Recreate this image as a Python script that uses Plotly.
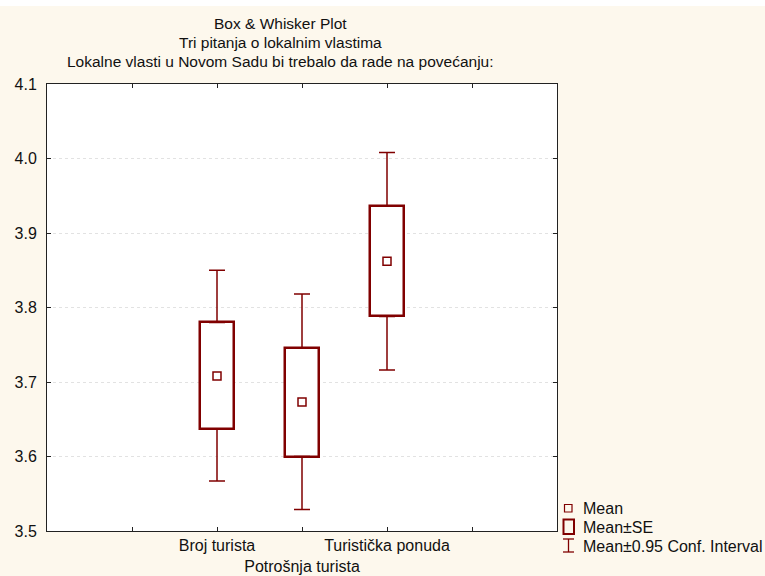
import plotly.graph_objects as go

# ---- data ----
categories = ["Broj turista", "Potrošnja turista", "Turistička ponuda"]
x_pos = [1, 2, 3]
mean_vals = [3.708, 3.673, 3.862]
se_low = [3.637, 3.600, 3.788]
se_high = [3.780, 3.746, 3.936]
ci_low = [3.567, 3.529, 3.716]
ci_high = [3.850, 3.818, 4.008]

title_lines = ["Box & Whisker Plot", "Tri pitanja o lokalnim vlastima",
               "Lokalne vlasti u Novom Sadu bi trebalo da rade na povećanju:"]
legend_labels = ["Mean", "Mean±SE", "Mean±0.95 Conf. Interval"]
y_ticks = [3.5, 3.6, 3.7, 3.8, 3.9, 4.0, 4.1]

MAROON = "#800000"
FONT = "Liberation Sans, Arial, sans-serif"
FS = 16

W, H = 765, 576
L, R, T, B = 47, 557, 84, 531


def px(xp):
    return (xp - L) / (R - L)


def py(yp):
    return (B - yp) / (B - T)


fig = go.Figure()

# Mean±SE boxes
fig.add_trace(go.Bar(
    x=x_pos,
    y=[h - l for h, l in zip(se_high, se_low)],
    base=se_low,
    width=0.39,
    marker=dict(color="white", line=dict(color=MAROON, width=2.5)),
    showlegend=False, hoverinfo="skip",
))

# Upper whiskers (from box top to CI high)
fig.add_trace(go.Scatter(
    x=x_pos, y=se_high, mode="markers",
    marker=dict(size=1, opacity=0),
    error_y=dict(type="data", symmetric=False,
                 array=[c - s for c, s in zip(ci_high, se_high)],
                 arrayminus=[0, 0, 0],
                 color=MAROON, thickness=1.5, width=8),
    showlegend=False, hoverinfo="skip",
))
# Lower whiskers (from box bottom to CI low)
fig.add_trace(go.Scatter(
    x=x_pos, y=se_low, mode="markers",
    marker=dict(size=1, opacity=0),
    error_y=dict(type="data", symmetric=False,
                 array=[0, 0, 0],
                 arrayminus=[s - c for s, c in zip(se_low, ci_low)],
                 color=MAROON, thickness=1.5, width=8),
    showlegend=False, hoverinfo="skip",
))

# Means
fig.add_trace(go.Scatter(
    x=x_pos, y=mean_vals, mode="markers",
    marker=dict(symbol="square-open", size=8, color=MAROON,
                line=dict(width=1.5, color=MAROON)),
    showlegend=False,
))

shapes = []
annotations = []

# top white strip (page above the chart)
shapes.append(dict(type="rect", xref="paper", yref="paper",
                   x0=px(0), x1=px(W), y0=py(6), y1=py(0),
                   fillcolor="white", line=dict(width=0), layer="above"))

# legend symbols
shapes.append(dict(type="rect", xref="paper", yref="paper",
                   x0=px(564.5), x1=px(572), y0=py(512), y1=py(504.5),
                   line=dict(color=MAROON, width=1.2), fillcolor="rgba(0,0,0,0)"))
shapes.append(dict(type="rect", xref="paper", yref="paper",
                   x0=px(563.5), x1=px(574), y0=py(534), y1=py(519.5),
                   line=dict(color=MAROON, width=2), fillcolor="rgba(0,0,0,0)"))
shapes.append(dict(type="line", xref="paper", yref="paper",
                   x0=px(568.5), x1=px(568.5), y0=py(552), y1=py(539),
                   line=dict(color=MAROON, width=1.3)))
shapes.append(dict(type="line", xref="paper", yref="paper",
                   x0=px(563), x1=px(574), y0=py(539), y1=py(539),
                   line=dict(color=MAROON, width=1.3)))
shapes.append(dict(type="line", xref="paper", yref="paper",
                   x0=px(563), x1=px(574), y0=py(552), y1=py(552),
                   line=dict(color=MAROON, width=1.3)))

for lab, yc in zip(legend_labels, [508, 527, 546]):
    annotations.append(dict(text=lab, xref="paper", yref="paper",
                            x=px(581), y=py(yc), xanchor="left", yanchor="middle",
                            showarrow=False, font=dict(family=FONT, size=FS, color="#111")))

# title lines
for t, yc in zip(title_lines, [24, 43, 62]):
    annotations.append(dict(text=t, xref="paper", yref="paper",
                            x=px(280), y=py(yc), xanchor="center", yanchor="middle",
                            showarrow=False, font=dict(family=FONT, size=15.5, color="#111")))

fig.update_layout(
    width=W, height=H, autosize=False,
    margin=dict(l=L, r=W - R, t=T, b=H - B, pad=0, autoexpand=False),
    paper_bgcolor="#fdf8ed",
    plot_bgcolor="white",
    showlegend=False,
    font=dict(family=FONT, size=FS, color="#111"),
    shapes=shapes,
    annotations=annotations,
    bargap=0,
)

fig.update_xaxes(
    range=[-1, 5],
    tickvals=[0, 1, 2, 3, 4],
    ticktext=["", categories[0], "<br>" + categories[1], categories[2], ""],
    tickangle=0, automargin=False,
    ticks="inside", ticklen=4, tickcolor="#222",
    showline=True, linecolor="#222", linewidth=1, mirror="ticks",
    showgrid=False, zeroline=False,
    tickfont=dict(family=FONT, size=FS, color="#111"),
)
fig.update_yaxes(
    range=[3.5, 4.1],
    tickvals=y_ticks,
    ticktext=[f"{v:.1f}" for v in y_ticks],
    automargin=False,
    ticks="inside", ticklen=4, tickcolor="#222",
    showline=True, linecolor="#222", linewidth=1, mirror="ticks",
    showgrid=True, gridcolor="#e2e2e2", griddash="dot", gridwidth=1,
    zeroline=False,
    ticklabelstandoff=6,
    tickfont=dict(family=FONT, size=FS, color="#111"),
)

fig.write_html("out.html")
